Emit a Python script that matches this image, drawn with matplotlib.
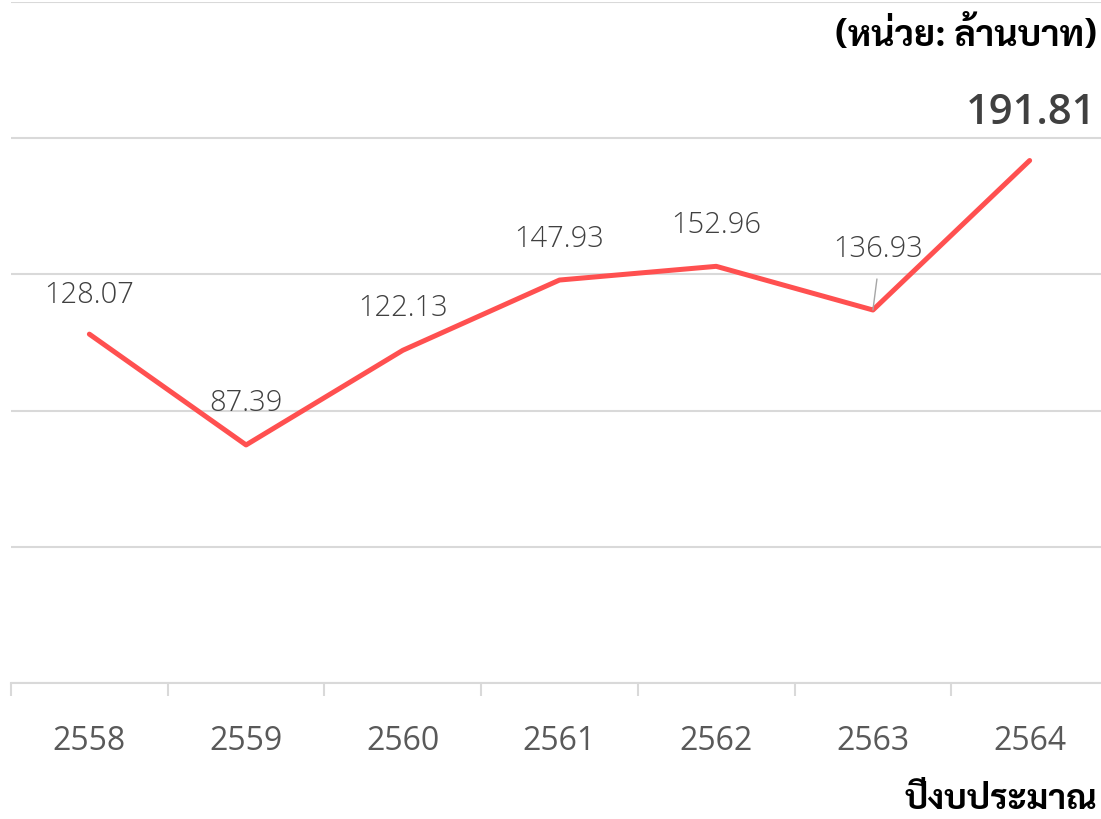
import matplotlib
matplotlib.use('Agg')
import matplotlib.pyplot as plt

plt.rcParams['font.family'] = ['Open Sans', 'Noto Sans Thai', 'DejaVu Sans']

# data
years = ['2558', '2559', '2560', '2561', '2562', '2563', '2564']
budget = [128.07, 87.39, 122.13, 147.93, 152.96, 136.93, 191.81]
# label offsets (pixels) above each point
label_dx = [0, 0, 0, 0, 0, 5, 1]
label_dy = [39, 42, 42, 41, 41, 61, 48]

fig = plt.figure(figsize=(11.01, 8.19), dpi=100)
ax = fig.add_axes([11 / 1101, 136 / 819, 1097 / 1101, 681 / 819])

x = list(range(len(years)))
ax.plot(x, budget, color='#FF5050', lw=3.6, solid_capstyle='round', zorder=3)

ax.set_xlim(-0.5, len(years) - 0.5)
ax.set_ylim(0, 250)
ax.set_yticks([0, 50, 100, 150, 200, 250])
ax.yaxis.grid(True, color='#d9d9d9', lw=1.5)
ax.tick_params(axis='y', left=False, labelleft=False)
for s in ['left', 'right', 'top']:
    ax.spines[s].set_visible(False)
ax.spines['bottom'].set_color('#d9d9d9')
ax.spines['bottom'].set_linewidth(1.5)
ax.set_axisbelow(True)

ax.set_xticks(x)
ax.set_xticklabels(years, fontsize=23, color='#595959', fontweight='medium')
ax.set_xticks([i - 0.5 for i in range(len(years) + 1)], minor=True)
ax.tick_params(axis='x', which='major', length=0, pad=30)
ax.tick_params(axis='x', which='minor', length=9, width=1.5, color='#d9d9d9', direction='out')

for i, v in enumerate(budget):
    last = i == len(budget) - 1
    ax.annotate(f'{v:.2f}', xy=(i, v), xytext=(label_dx[i], label_dy[i]),
                textcoords='offset pixels', ha='center', va='center',
                fontsize=30 if last else 21, color='#404040',
                fontweight='semibold' if last else 'light')

# leader line for 2563 label
ax.annotate('', xy=(5, budget[5]), xytext=(4, 31), textcoords='offset pixels',
            arrowprops=dict(arrowstyle='-', color='#a6a6a6', lw=1, shrinkA=0, shrinkB=0))

fig.text(1097 / 1101, 1 - 37 / 819, '(หน่วย: ล้านบาท)', ha='right', va='center',
         fontsize=26, fontweight='bold', color='black', family=['Sarabun', 'Noto Sans Thai'])
fig.text(1097 / 1101, 1 - 800 / 819, 'ปีงบประมาณ', ha='right', va='center',
         fontsize=25, fontweight='bold', color='black', family=['Sarabun', 'Noto Sans Thai'])

fig.savefig('out.png')
